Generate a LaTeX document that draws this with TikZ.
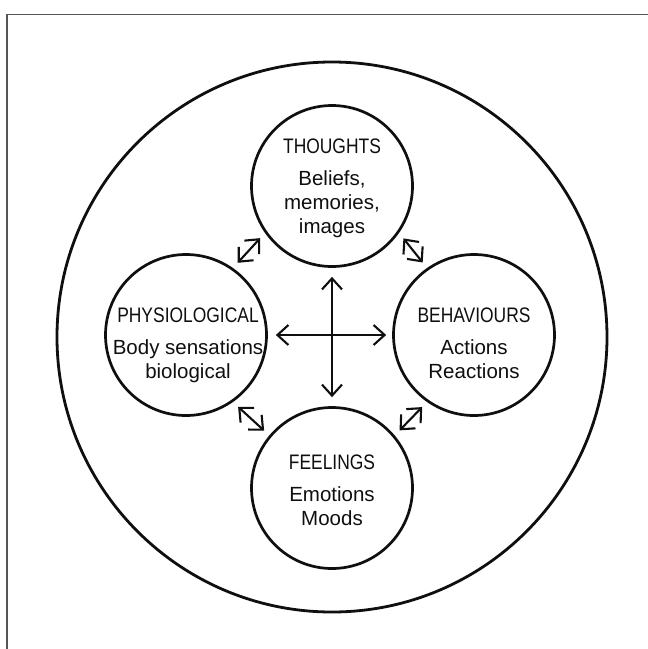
\documentclass[tikz,border=0pt]{standalone}
\usepackage{fontspec}
\setmainfont{Liberation Sans}
\newfontfamily\headfont{Liberation Sans}[FakeStretch=0.83]
\usepackage{tikz}
\usetikzlibrary{arrows.meta}
\definecolor{inkblack}{RGB}{15,15,15}
\definecolor{framegray}{RGB}{85,85,85}

\begin{document}
\begin{tikzpicture}[
    x=1pt, y=-1pt,
    bubble/.style={circle, draw=inkblack, line width=2.7pt, minimum size=161pt, inner sep=0pt},
    caption/.style={align=center, text=inkblack, font=\fontsize{20.5}{24}\selectfont},
    link/.style={{Straight Barb[length=11pt,width=20pt]}-{Straight Barb[length=11pt,width=20pt]},
        draw=inkblack, line width=2.1pt},
]
    \useasboundingbox (0,0) rectangle (648,649);
    % scanned frame, only two sides show
    \draw[framegray, line width=1.2pt] (7,649) -- (7,14.5) -- (648,14.5);

    \node[bubble, minimum size=550pt, line width=2.8pt] (outer) at (332,337) {};

    \node[bubble] (thoughts) at (332,186) {};
    \node[bubble] (phys) at (186,335) {};
    \node[bubble] (behav) at (474,335) {};
    \node[bubble] (feelings) at (332,488) {};

    \node[caption] (thoughts-txt) at (332,188.6) {
        {\headfont\fontsize{21}{24}\selectfont THOUGHTS}\\[8pt]
        Beliefs,\\ memories,\\ images
    };
    \node[caption] (phys-txt) at (188,345) {
        {\headfont\fontsize{21}{24}\selectfont PHYSIOLOGICAL}\\[8pt]
        Body sensations\\ biological
    };
    \node[caption] (behav-txt) at (474,343) {
        {\headfont\fontsize{21}{24}\selectfont BEHAVIOURS}\\[8pt]
        Actions\\ Reactions
    };
    \node[caption] (feelings-txt) at (332,490.5) {
        {\headfont\fontsize{21}{24}\selectfont FEELINGS}\\[8pt]
        Emotions\\ Moods
    };

    % the cross in the middle
    \draw[link, shorten <=9pt, shorten >=9pt] (thoughts.south) -- (feelings.north);
    \draw[link, shorten <=8pt, shorten >=6pt] (phys.east) -- (behav.west);

    % short links between neighbours
    \draw[link, shorten <=7pt, shorten >=7pt] (thoughts.-145) -- (phys.55);
    \draw[link, shorten <=7pt, shorten >=7pt] (thoughts.-35) -- (behav.125);
    \draw[link, shorten <=7pt, shorten >=7pt] (phys.-55) -- (feelings.140);
    \draw[link, shorten <=7pt, shorten >=7pt] (behav.-125) -- (feelings.40);
\end{tikzpicture}
\end{document}
